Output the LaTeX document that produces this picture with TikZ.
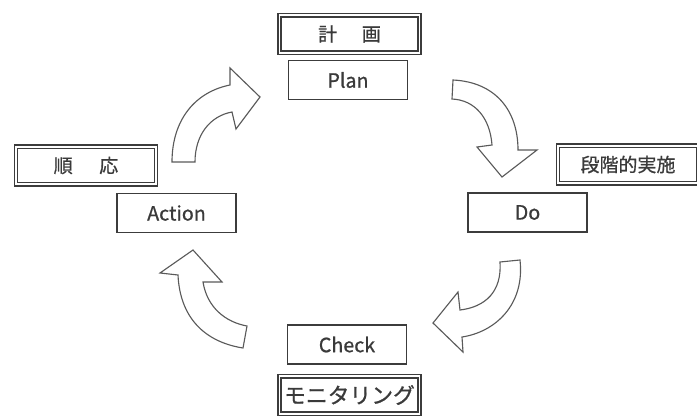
\documentclass[tikz,border=0pt]{standalone}
\usepackage{fontspec}
\setmainfont{Noto Sans CJK JP}[FakeBold=0.8]

\definecolor{boxline}{HTML}{3C3C3C}
\definecolor{arrline}{HTML}{5A5A5A}
\definecolor{inkgray}{HTML}{3A3A3A}

\tikzset{
  box/.style={draw=boxline, line width=1pt, fill=white, inner sep=0pt,
    minimum width=2.98cm, minimum height=0.97cm, text=inkgray,
    font=\fontsize{14}{16}\selectfont},
  dblbox/.style={draw=boxline, double=white, line width=1.1pt,
    double distance=1.3pt, inner sep=0pt, minimum width=3.5cm,
    minimum height=0.93cm, text=inkgray, font=\fontsize{13.5}{16}\selectfont},
  cyclearrow/.style={draw=arrline, line width=0.8pt, fill=white, line join=miter},
}

\begin{document}
\begin{tikzpicture}[x=0.025cm, y=-0.025cm]
		\useasboundingbox (0,0) rectangle (697,416);

		% Plan
		\node[dblbox] (keikaku) at (349.5,34) {計\hspace{1.3em}画};
		\node[box]    (plan)    at (348,80)   {Plan};

		% Do
		\node[dblbox] (jisshi) at (628,164.5) {段階的実施};
		\node[box]    (do)     at (527.5,212.5) {Do};

		% Check
		\node[box]    (check)   at (347,344.5) {Check};
		\node[dblbox, font=\fontsize{15.5}{18}\selectfont] (monitor) at (349.5,395) {モニタリング};

		% Action
		\node[dblbox] (junno)  at (86,165.5)  {順\hspace{1.4em}応};
		\node[box]    (action) at (176.5,213) {Action};

		% Arrows of the cycle
		\draw[cyclearrow] (172,162) .. controls (172,120) and (195,92) .. (230,85)
			-- (230,68) -- (260,97) -- (236,129) -- (232,112)
			.. controls (210,116) and (195,135) .. (195,162) -- cycle;
		\draw[cyclearrow] (453,80) .. controls (495,82) and (518,110) .. (518,150)
			-- (537,150) -- (502,177) -- (477,147) -- (492,145)
			.. controls (490,118) and (475,100) .. (452,99) -- cycle;
		\draw[cyclearrow] (520,260) .. controls (525,305) and (495,332) .. (462,337)
			-- (463,352) -- (433,323) -- (458,292) -- (460,310)
			.. controls (485,307) and (502,292) .. (500,262) -- cycle;
		\draw[cyclearrow] (243,348) -- (247,326)
			.. controls (225,322) and (207,307) .. (203,282)
			-- (222,282) -- (193,250) -- (160,273) -- (178,275)
			.. controls (180,318) and (205,342) .. (243,348) -- cycle;
	\end{tikzpicture}
\end{document}
